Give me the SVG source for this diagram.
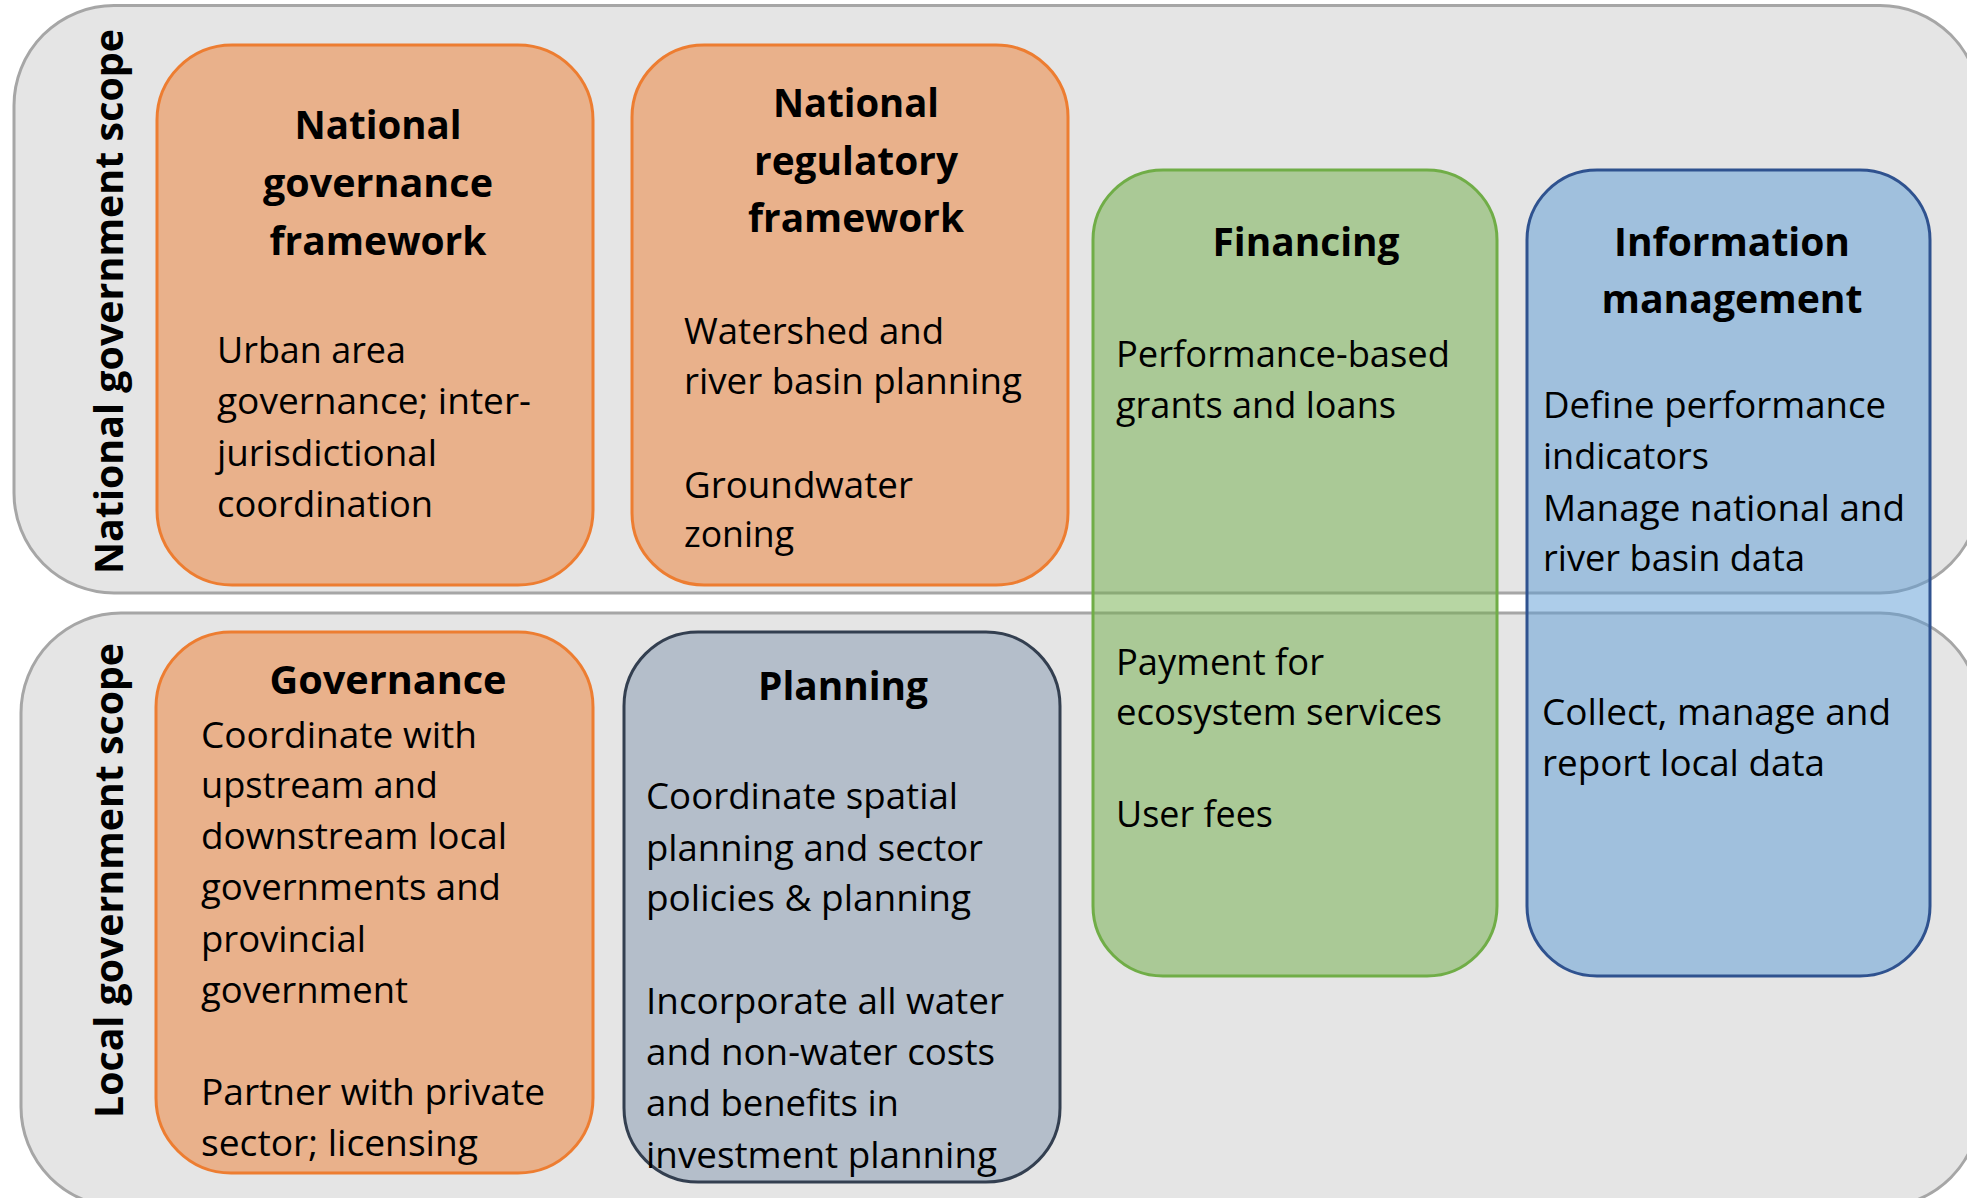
<svg xmlns="http://www.w3.org/2000/svg" width="1967" height="1198" viewBox="0 0 1967 1198">
  <style>
    .band { fill: #e5e5e5; stroke: #a6a6a6; stroke-width: 3; }
    .orange { fill: #ED7D31; fill-opacity: 0.5; stroke: #ED7D31; stroke-width: 3; }
    .green { fill: #70AD47; fill-opacity: 0.5; stroke: #70AD47; stroke-width: 3; }
    .blue { fill: #5B9BD5; fill-opacity: 0.5; stroke: #2F528F; stroke-width: 3; }
    .slate { fill: #8497B0; fill-opacity: 0.5; stroke: #333F50; stroke-width: 3; }
    text { font-family: "Open Sans", "DejaVu Sans", sans-serif; fill: #000; }
    .title { font-size: 40px; font-weight: 700; text-anchor: middle; }
    .body { font-size: 36px; }
    .side { font-size: 40px; font-weight: 700; }
  </style>

  <!-- scope bands -->
  <g id="band-national">
    <rect class="band" x="14" y="5.5" width="1966" height="587.5" rx="100"/>
    <text class="side" transform="translate(123,574) rotate(-90)" textLength="545" lengthAdjust="spacingAndGlyphs">National government scope</text>
  </g>
  <g id="band-local">
    <rect class="band" x="21" y="613" width="1959" height="594" rx="100"/>
    <text class="side" transform="translate(123,1118) rotate(-90)" textLength="475" lengthAdjust="spacingAndGlyphs">Local government scope</text>
  </g>

  <!-- national level -->
  <g id="national-governance">
    <rect class="orange" x="157" y="45" width="436" height="540" rx="75"/>
    <text class="title" x="378" y="138.5" textLength="167" lengthAdjust="spacingAndGlyphs">National</text>
    <text class="title" x="378" y="197" textLength="230" lengthAdjust="spacingAndGlyphs">governance</text>
    <text class="title" x="378" y="254.5" textLength="217" lengthAdjust="spacingAndGlyphs">framework</text>
    <text class="body" x="217" y="363" textLength="189" lengthAdjust="spacingAndGlyphs">Urban area</text>
    <text class="body" x="217" y="414" textLength="314" lengthAdjust="spacingAndGlyphs">governance; inter-</text>
    <text class="body" x="217" y="466" textLength="220" lengthAdjust="spacingAndGlyphs">jurisdictional</text>
    <text class="body" x="217" y="517" textLength="216" lengthAdjust="spacingAndGlyphs">coordination</text>
  </g>

  <g id="national-regulatory">
    <rect class="orange" x="632" y="45" width="436" height="540" rx="72"/>
    <text class="title" x="856" y="116.7" textLength="166" lengthAdjust="spacingAndGlyphs">National</text>
    <text class="title" x="856" y="175" textLength="204" lengthAdjust="spacingAndGlyphs">regulatory</text>
    <text class="title" x="856" y="231.5" textLength="216" lengthAdjust="spacingAndGlyphs">framework</text>
    <text class="body" x="684" y="343.7" textLength="260" lengthAdjust="spacingAndGlyphs">Watershed and</text>
    <text class="body" x="684" y="394" textLength="338" lengthAdjust="spacingAndGlyphs">river basin planning</text>
    <text class="body" x="684" y="497.5" textLength="229" lengthAdjust="spacingAndGlyphs">Groundwater</text>
    <text class="body" x="684" y="547" textLength="110" lengthAdjust="spacingAndGlyphs">zoning</text>
  </g>

  <!-- local level -->
  <g id="governance">
    <rect class="orange" x="156" y="632" width="437" height="541" rx="75"/>
    <text class="title" x="388" y="693.5" textLength="237" lengthAdjust="spacingAndGlyphs">Governance</text>
    <text class="body" x="201" y="747.5" textLength="276" lengthAdjust="spacingAndGlyphs">Coordinate with</text>
    <text class="body" x="201" y="798" textLength="237" lengthAdjust="spacingAndGlyphs">upstream and</text>
    <text class="body" x="201" y="849" textLength="306" lengthAdjust="spacingAndGlyphs">downstream local</text>
    <text class="body" x="201" y="900" textLength="300" lengthAdjust="spacingAndGlyphs">governments and</text>
    <text class="body" x="201" y="951.5" textLength="165" lengthAdjust="spacingAndGlyphs">provincial</text>
    <text class="body" x="201" y="1003" textLength="207" lengthAdjust="spacingAndGlyphs">government</text>
    <text class="body" x="201" y="1105" textLength="344" lengthAdjust="spacingAndGlyphs">Partner with private</text>
    <text class="body" x="201" y="1156" textLength="277" lengthAdjust="spacingAndGlyphs">sector; licensing</text>
  </g>

  <g id="planning">
    <rect class="slate" x="624" y="632" width="436" height="550" rx="74"/>
    <text class="title" x="843" y="700.3" textLength="170" lengthAdjust="spacingAndGlyphs">Planning</text>
    <text class="body" x="646" y="809" textLength="312" lengthAdjust="spacingAndGlyphs">Coordinate spatial</text>
    <text class="body" x="646" y="860.5" textLength="337" lengthAdjust="spacingAndGlyphs">planning and sector</text>
    <text class="body" x="646" y="911" textLength="325" lengthAdjust="spacingAndGlyphs">policies &amp; planning</text>
    <text class="body" x="646" y="1014" textLength="358" lengthAdjust="spacingAndGlyphs">Incorporate all water</text>
    <text class="body" x="646" y="1065.3" textLength="349" lengthAdjust="spacingAndGlyphs">and non-water costs</text>
    <text class="body" x="646" y="1116" textLength="253" lengthAdjust="spacingAndGlyphs">and benefits in</text>
    <text class="body" x="646" y="1167.5" textLength="351" lengthAdjust="spacingAndGlyphs">investment planning</text>
  </g>

  <!-- cross-level columns -->
  <g id="financing">
    <rect class="green" x="1093" y="170" width="404" height="806" rx="70"/>
    <text class="title" x="1306" y="255.6" textLength="187" lengthAdjust="spacingAndGlyphs">Financing</text>
    <text class="body" x="1116" y="367.4" textLength="334" lengthAdjust="spacingAndGlyphs">Performance-based</text>
    <text class="body" x="1116" y="417.5" textLength="280" lengthAdjust="spacingAndGlyphs">grants and loans</text>
    <text class="body" x="1116" y="674.7" textLength="208" lengthAdjust="spacingAndGlyphs">Payment for</text>
    <text class="body" x="1116" y="724.8" textLength="326" lengthAdjust="spacingAndGlyphs">ecosystem services</text>
    <text class="body" x="1116" y="827.3" textLength="157" lengthAdjust="spacingAndGlyphs">User fees</text>
  </g>

  <g id="information-management">
    <rect class="blue" x="1527" y="170" width="403" height="806" rx="70"/>
    <text class="title" x="1732" y="256.4" textLength="236" lengthAdjust="spacingAndGlyphs">Information</text>
    <text class="title" x="1732" y="313" textLength="261" lengthAdjust="spacingAndGlyphs">management</text>
    <text class="body" x="1543" y="418.3" textLength="343" lengthAdjust="spacingAndGlyphs">Define performance</text>
    <text class="body" x="1543" y="468.8" textLength="166" lengthAdjust="spacingAndGlyphs">indicators</text>
    <text class="body" x="1543" y="520.5" textLength="362" lengthAdjust="spacingAndGlyphs">Manage national and</text>
    <text class="body" x="1543" y="571" textLength="262" lengthAdjust="spacingAndGlyphs">river basin data</text>
    <text class="body" x="1542" y="724.8" textLength="349" lengthAdjust="spacingAndGlyphs">Collect, manage and</text>
    <text class="body" x="1542" y="775.6" textLength="283" lengthAdjust="spacingAndGlyphs">report local data</text>
  </g>

  <!-- no connectors in this layout -->
  <g id="connectors"></g>
</svg>
